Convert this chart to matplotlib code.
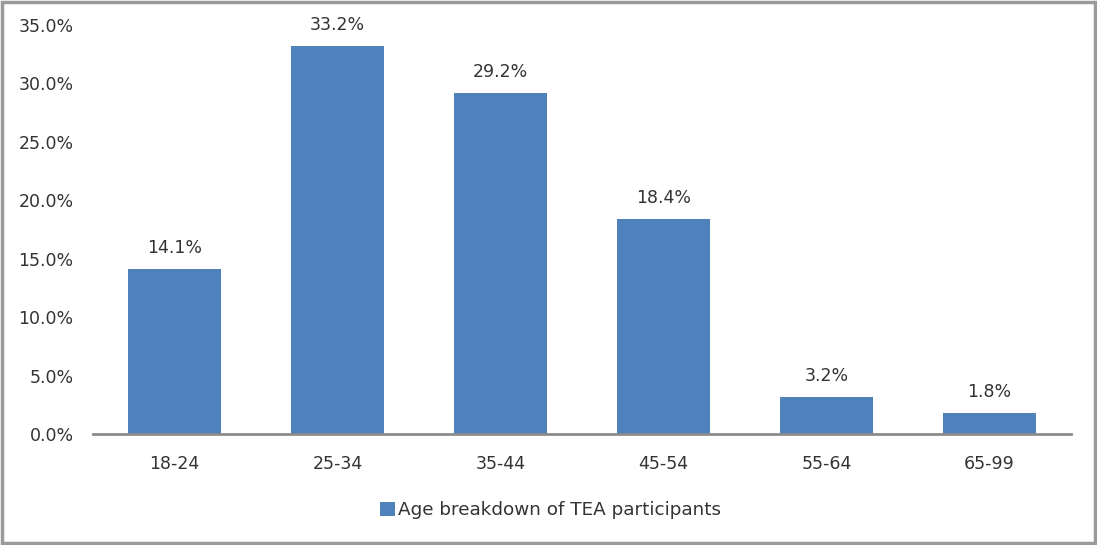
import matplotlib.pyplot as plt
import matplotlib.ticker as mtick
from matplotlib.patches import Rectangle

plt.rcParams['font.family'] = ['DejaVu Sans']

# Age breakdown of TEA participants (share of total, %)
age_groups = ['18-24', '25-34', '35-44', '45-54', '55-64', '65-99']
shares = [14.1, 33.2, 29.2, 18.4, 3.2, 1.8]
y_ticks = [0, 5, 10, 15, 20, 25, 30, 35]

BAR_COLOR = '#4F81BD'
TEXT_COLOR = '#333333'
AXIS_COLOR = '#8c8c8c'

fig = plt.figure(figsize=(10.97, 5.45), dpi=100)
ax = fig.add_axes([0.0848, 0.2037, 0.8915, 0.7503])

x = range(len(age_groups))
bars = ax.bar(x, shares, width=0.57, color=BAR_COLOR, label='Age breakdown of TEA participants')

for bar, val in zip(bars, shares):
    ax.annotate(f'{val}%', (bar.get_x() + bar.get_width() / 2, val),
                xytext=(0, 8.5), textcoords='offset points',
                ha='center', va='bottom', fontsize=12.5, color=TEXT_COLOR)

ax.set_xlim(-0.5, len(age_groups) - 0.5)
ax.set_ylim(0, 35)
ax.set_yticks(y_ticks)
ax.yaxis.set_major_formatter(mtick.FuncFormatter(lambda v, _: f'{v:.1f}%'))
ax.set_xticks(list(x))
ax.set_xticklabels(age_groups)

ax.tick_params(axis='y', length=0, pad=14, labelsize=12.5, labelcolor=TEXT_COLOR)
ax.tick_params(axis='x', length=0, pad=15, labelsize=12.5, labelcolor=TEXT_COLOR)

for side in ['top', 'right', 'left']:
    ax.spines[side].set_visible(False)
ax.spines['bottom'].set_color(AXIS_COLOR)
ax.spines['bottom'].set_linewidth(2)

leg = fig.legend(handles=[bars], labels=['Age breakdown of TEA participants'],
                 loc='center', bbox_to_anchor=(0.502, 0.064), frameon=False,
                 fontsize=13.2, handlelength=0.8, handleheight=0.8, handletextpad=0.2)
for t in leg.get_texts():
    t.set_color(TEXT_COLOR)

# Outer chart border
fig.patches.append(Rectangle((0.002, 0.003), 0.996, 0.994, transform=fig.transFigure,
                             fill=False, edgecolor='#9a9a9a', linewidth=2.5))

fig.savefig('out.png', dpi=100)
